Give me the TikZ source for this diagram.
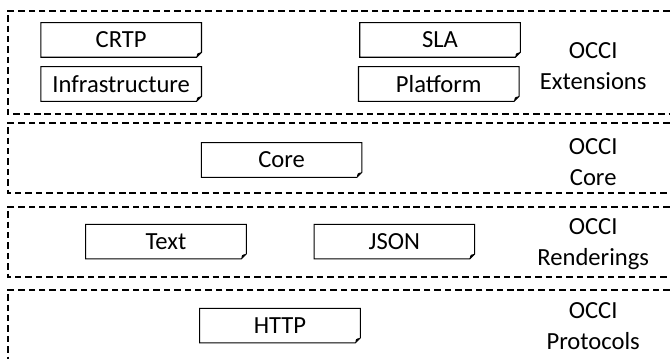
\documentclass[tikz,border=0pt]{standalone}
\usepackage{fontspec}
\setmainfont{Carlito}
\usepackage{tikz}

\tikzset{
  layer/.style={draw, dashed, dash pattern=on 4.6pt off 2.8pt, line width=0.8pt},
  note/.style={minimum width=4cm, minimum height=0.85cm, inner sep=0pt},
  occi/.style={align=center, font=\fontsize{17.5}{22}\selectfont}
}

\begin{document}
\begin{tikzpicture}[font=\fontsize{17.5}{21}\selectfont]
  \useasboundingbox (0,0) rectangle (16.75,8.95);

  % dashed layers
  \draw[layer] (17,8.675) -- (0.2,8.675) -- (0.2,6.1) -- (17,6.1);
  \draw[layer] (17,5.875) -- (0.2,5.875) -- (0.2,4.125) -- (17,4.125);
  \draw[layer] (17,3.775) -- (0.2,3.775) -- (0.2,2.025) -- (17,2.025);
  \draw[layer] (17,1.7) -- (0.2,1.7) -- (0.2,-0.5);

  % boxes
  \node[note] (crtp) at (3.03,7.95) {CRTP};
  \node[note] (infra) at (3.03,6.85) {Infrastructure};
  \node[note] (sla) at (11.0,7.95) {SLA};
  \node[note] (platform) at (10.97,6.85) {Platform};
  \node[note] (core) at (7.04,4.95) {Core};
  \node[note] (text) at (4.15,2.91) {Text};
  \node[note] (json) at (9.86,2.91) {JSON};
  \node[note] (http) at (7.0,0.81) {HTTP};

  \foreach \n in {crtp,infra,sla,platform,core,text,json,http} {
    \draw[line width=0.75pt] (\n.north west) -- (\n.north east)
      -- ([yshift=3.5pt]\n.south east) -- ([xshift=-3.5pt]\n.south east)
      -- (\n.south west) -- cycle;
    \fill ([yshift=3.5pt]\n.south east)
      .. controls ([xshift=-3.2pt,yshift=3pt]\n.south east) .. ([xshift=-3.5pt]\n.south east) -- cycle;
  }

  % layer names
  \node[occi] (ext) at (14.83,7.3) {OCCI\\Extensions};
  \node[occi] (corel) at (14.83,4.9) {OCCI\\Core};
  \node[occi] (rend) at (14.83,2.85) {OCCI\\Renderings};
  \node[occi] (prot) at (14.83,0.8) {OCCI\\Protocols};

\end{tikzpicture}
\end{document}
